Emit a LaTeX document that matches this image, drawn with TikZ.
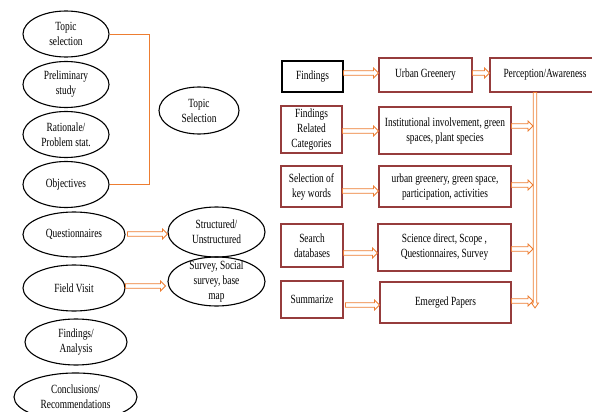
\documentclass[tikz,border=0pt]{standalone}
\usepackage{fontspec}
\setmainfont{Liberation Serif}[FakeStretch=0.75]
\usetikzlibrary{calc,shapes.geometric}
\definecolor{arrorange}{RGB}{237,125,49}
\definecolor{boxred}{RGB}{150,60,60}
\tikzset{
  txt/.style={font=\fontsize{12.5}{15}\selectfont, align=center},
  ell/.style={txt, draw=black, ellipse, line width=1.1pt, inner sep=-6pt},
  box/.style={txt, draw=boxred, rectangle, line width=1.1pt, inner sep=1pt},
  harr/.style={draw=arrorange, fill=white, line width=0.8pt,
    to path={let \p1=(\tikztostart), \p2=(\tikztotarget) in
      (\x1,\y1+2.3pt) -- (\x2-5pt,\y1+2.3pt) -- (\x2-5pt,\y1+5pt) -- (\x2,\y1)
      -- (\x2-5pt,\y1-5pt) -- (\x2-5pt,\y1-2.3pt) -- (\x1,\y1-2.3pt) -- cycle}},
  varr/.style={draw=arrorange, fill=white, line width=0.8pt,
    to path={let \p1=(\tikztostart), \p2=(\tikztotarget) in
      (\x1-1.8pt,\y1) -- (\x1-1.8pt,\y2+5pt) -- (\x1-3.5pt,\y2+5pt) -- (\x1,\y2)
      -- (\x1+3.5pt,\y2+5pt) -- (\x1+1.8pt,\y2+5pt) -- (\x1+1.8pt,\y1) -- cycle}},
  bracket/.style={draw=arrorange, line width=0.8pt}
}
\begin{document}
\begin{tikzpicture}[x=1pt,y=-1pt]
\useasboundingbox (0,0) rectangle (592,412);
\clip (0,0) rectangle (592,412);
% left column ellipses
\node[ell, minimum width=86pt, minimum height=46pt] (ts) at (66,34) {Topic\\selection};
\node[ell, minimum width=86pt, minimum height=46pt] (ps) at (66,84.5) {Preliminary\\study};
\node[ell, minimum width=86pt, minimum height=46pt] (rat) at (66,134.5) {Rationale/\\Problem stat.};
\node[ell, minimum width=86pt, minimum height=46pt] (obj) at (66,184.5) {Objectives};
\node[ell, minimum width=80pt, minimum height=47pt] (tsel) at (199,110.5) {Topic\\Selection};
\node[ell, minimum width=102pt, minimum height=45pt] (quest) at (74,234.5) {Questionnaires};
\node[ell, minimum width=97pt, minimum height=50pt] (struct) at (216.5,232) {Structured/\\Unstructured};
\node[ell, minimum width=102pt, minimum height=46pt] (field) at (74,288) {Field Visit};
\node[ell, minimum width=97pt, minimum height=49pt] (survey) at (216.5,281.5) {Survey, Social\\survey, base\\map};
\node[ell, minimum width=102pt, minimum height=46pt] (fa) at (76,342) {Findings/\\Analysis};
\node[ell, minimum width=123pt, minimum height=48pt] (concl) at (75.5,397) {Conclusions/\\Recommendations};
% bracket
\draw[bracket] (ts.east) -- ++(40,0) |- (obj.east);
% ellipse arrows
\draw[harr] ([xshift=2pt,yshift=0.5pt]quest.east) to (struct.west);
\draw[harr] ([yshift=2pt]field.east) to ([xshift=-2pt]survey.west);
% right boxes
\node[box, draw=black, minimum width=61pt, minimum height=31pt] (find) at (312.5,76.5) {Findings};
\node[box, minimum width=93pt, minimum height=34pt] (ug) at (425.5,75) {Urban Greenery};
\node[box, minimum width=110pt, minimum height=34pt] (perc) at (545,75) {Perception/Awareness};
\node[box, minimum width=61pt, minimum height=47pt] (frc) at (311.5,129.5) {Findings\\Related\\Categories};
\node[box, minimum width=132pt, minimum height=47pt] (inst) at (445,130.5) {Institutional involvement, green\\spaces, plant species};
\node[box, minimum width=61pt, minimum height=41pt] (sel) at (311.5,186.5) {Selection of\\key words};
\node[box, minimum width=132pt, minimum height=41pt] (ugr) at (445,186.5) {urban greenery, green space,\\participation, activities};
\node[box, minimum width=62pt, minimum height=43pt] (search) at (312,245.5) {Search\\databases};
\node[box, minimum width=133pt, minimum height=47pt] (sci) at (444.5,247.5) {Science direct, Scope ,\\Questionnaires, Survey};
\node[box, minimum width=62pt, minimum height=37pt] (summ) at (312,299.5) {Summarize};
\node[box, minimum width=131pt, minimum height=41pt] (emer) at (445.5,302.5) {Emerged Papers};
\coordinate (vin) at (533,0);
\coordinate (vbot) at (535,308);
% box arrows
\draw[harr] ([yshift=3.5pt]find.east) to (ug.west);
\draw[harr] ([yshift=2pt]ug.east) to (perc.west);
\draw[harr] ([yshift=-1.5pt]frc.east) to (inst.west);
\draw[harr] ([yshift=-4.5pt]sel.east) to (ugr.west);
\draw[harr] ([yshift=-7.5pt]search.east) to (sci.west);
\draw[harr] ([xshift=2pt,yshift=-5.5pt]summ.east) to (emer.west);
\draw[varr] ([xshift=-10pt]perc.south) to (vbot);
\draw[harr] ([yshift=4.5pt]inst.east) to (inst.east -| vin);
\draw[harr] ([yshift=1.5pt]ugr.east) to (ugr.east -| vin);
\draw[harr] ([yshift=-1.5pt]sci.east) to (sci.east -| vin);
\draw[harr] ([yshift=1.5pt]emer.east) to (emer.east -| vin);
\end{tikzpicture}
\end{document}
